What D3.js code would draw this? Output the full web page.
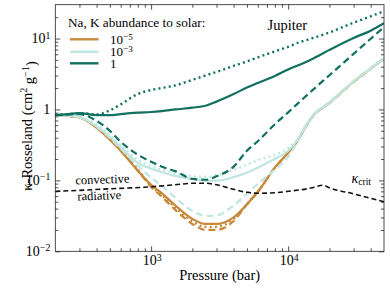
<!DOCTYPE html>
<html>
<head>
<meta charset="utf-8">
<script src="https://cdn.jsdelivr.net/npm/d3@7"></script>
<style>
  body { margin: 0; background: #fff; }
</style>
</head>
<body>
<div id="chart"></div>
<script>
// chart size and plot box
const width = 390;
const height = 288;
const margin = {left: 55.3, right: 6, top: 4.7, bottom: 36.7};

// pressure grid (bar) shared by the coloured curves
const pressure = [200, 250, 300, 400, 500, 600, 800, 1000, 1200, 1500, 2000, 2500, 3000,
                  4000, 5000, 6000, 8000, 10000, 12000, 13000, 15000, 20000, 30000, 40000, 50000];

// abundance = 1 (dark teal)
const kTealSolid = [0.83, 0.86, 0.89, 0.83, 0.83, 0.86, 0.90, 0.92, 0.95, 1.0, 1.06, 1.13, 1.29,
                    1.65, 2.04, 2.36, 2.97, 3.67, 4.25, 4.53, 5.16, 6.92, 10.2, 12.9, 16.4];
const kTealDash  = [0.83, 0.85, 0.86, 0.69, 0.50, 0.35, 0.23, 0.183, 0.156, 0.135, 0.105, 0.102, 0.114,
                    0.156, 0.262, 0.357, 0.62, 0.91, 1.26, 1.45, 1.86, 3.04, 6.08, 9.93, 14.5];
const kTealDot   = [0.83, 0.86, 0.89, 0.85, 0.97, 1.18, 1.65, 1.88, 2.01, 2.18, 2.61, 3.02, 3.38,
                    4.11, 4.76, 5.42, 6.59, 7.64, 8.84, 9.27, 10.1, 12.2, 16.7, 20.6, 24.3];

// abundance = 1e-3 (light cyan)
const kCyanSolid = [0.83, 0.82, 0.78, 0.58, 0.41, 0.294, 0.177, 0.146, 0.130, 0.116, 0.105, 0.099, 0.099,
                    0.111, 0.128, 0.151, 0.202, 0.262, 0.40, 0.53, 0.794, 1.25, 2.48, 3.79, 5.25];
const kCyanDash  = [0.83, 0.82, 0.78, 0.57, 0.394, 0.28, 0.161, 0.109, 0.084, 0.057, 0.037, 0.0316, 0.0321,
                    0.0444, 0.0646, 0.0895, 0.141, 0.216, 0.38, 0.52, 0.79, 1.24, 2.46, 3.77, 5.22];
const kCyanDot   = [0.83, 0.82, 0.78, 0.61, 0.43, 0.313, 0.196, 0.158, 0.141, 0.126, 0.114, 0.112, 0.118,
                    0.141, 0.166, 0.192, 0.230, 0.289, 0.41, 0.54, 0.80, 1.26, 2.5, 3.8, 5.27];

// abundance = 1e-5 (orange)
const kOrangeSolid = [0.83, 0.81, 0.77, 0.555, 0.375, 0.262, 0.137, 0.0867, 0.0657, 0.0444, 0.0286, 0.0243, 0.0243,
                      0.0301, 0.0459, 0.069, 0.151, 0.246, 0.39, 0.52, 0.79, 1.24, 2.46, 3.77, 5.22];
const kOrangeDash  = [0.83, 0.81, 0.77, 0.555, 0.375, 0.262, 0.137, 0.081, 0.0586, 0.0384, 0.0243, 0.020, 0.020,
                      0.0268, 0.0459, 0.069, 0.151, 0.246, 0.39, 0.52, 0.79, 1.24, 2.46, 3.77, 5.22];
const kOrangeDot   = [0.83, 0.81, 0.78, 0.565, 0.385, 0.27, 0.142, 0.0838, 0.062, 0.0413, 0.0265, 0.0221, 0.0221,
                      0.0286, 0.0459, 0.069, 0.151, 0.246, 0.39, 0.52, 0.79, 1.24, 2.46, 3.77, 5.22];

// critical opacity (black dashed)
const pCrit = [200, 300, 500, 1000, 1500, 2000, 2500, 3000, 4000, 5000, 6000, 8000, 10000, 15000, 18000, 20000, 30000, 50000];
const kCrit = [0.0701, 0.0724, 0.076, 0.0812, 0.0867, 0.091, 0.091, 0.0867, 0.0748, 0.0679, 0.0657, 0.0668,
               0.0701, 0.0786, 0.0853, 0.0786, 0.0646, 0.0498];

// legend
const legendTitle = "Na, K abundance to solar:";
const legendExp = ["\u22125", "\u22123", null];

// tick labels
const xMajor = [1000, 10000];
const xMajorExp = ["3", "4"];
const yMajor = [0.01, 0.1, 1, 10];
const yMajorExp = ["\u22122", "\u22121", null, "1"];

const colors = {orange: "#c8893b", cyan: "#bfe6df", teal: "#11705f"};
const dashes = {solid: null, dash: "7,4", dot: "2,3.2"};

const svg = d3.select("#chart")
  .append("svg")
  .attr("width", width)
  .attr("height", height)
  .attr("font-family", "'Liberation Serif', 'DejaVu Serif', 'Times New Roman', serif");

const x = d3.scaleLog()
  .domain([200, 50000])
  .range([margin.left, width - margin.right]);

const y = d3.scaleLog()
  .domain([0.01, 30])
  .range([height - margin.bottom, margin.top]);

const x0 = margin.left, x1 = width - margin.right;
const y0 = height - margin.bottom, y1 = margin.top;

// minor tick values
function minors(lo, hi) {
  const out = [];
  for (let e = Math.floor(Math.log10(lo)); e <= Math.ceil(Math.log10(hi)); e++) {
    for (let m = 2; m <= 9; m++) {
      const v = m * Math.pow(10, e);
      if (v > lo && v < hi) out.push(v);
    }
  }
  return out;
}
const xMinor = minors(200, 50000);
const yMinor = minors(0.01, 30);

// axes: ticks point inward on every side
function addAxis(axisFn, scale, values, size, transform) {
  const g = svg.append("g")
    .attr("transform", transform)
    .call(axisFn(scale).tickValues(values).tickSize(-size).tickSizeOuter(0).tickFormat(""));
  g.select(".domain").remove();
  g.selectAll("line").attr("stroke", "#222").attr("stroke-width", 0.8);
  return g;
}
addAxis(d3.axisBottom, x, xMajor, 5, `translate(0,${y0})`);
addAxis(d3.axisBottom, x, xMinor, 3, `translate(0,${y0})`);
addAxis(d3.axisTop, x, xMajor, 5, `translate(0,${y1})`);
addAxis(d3.axisTop, x, xMinor, 3, `translate(0,${y1})`);
addAxis(d3.axisLeft, y, yMajor, 5, `translate(${x0},0)`);
addAxis(d3.axisLeft, y, yMinor, 3, `translate(${x0},0)`);
addAxis(d3.axisRight, y, yMajor, 5, `translate(${x1},0)`);
addAxis(d3.axisRight, y, yMinor, 3, `translate(${x1},0)`);

// helper: "10" with a superscript
function powerLabel(sel, base, exp) {
  sel.append("tspan").text(base);
  if (exp) {
    sel.append("tspan").attr("dy", "-0.45em").attr("font-size", "70%").text(exp);
  }
}

// x tick labels
xMajor.forEach((v, i) => {
  const t = svg.append("text")
    .attr("x", x(v) + 1)
    .attr("y", y0 + 14)
    .attr("text-anchor", "middle")
    .attr("font-size", 14);
  powerLabel(t, "10", xMajorExp[i]);
});

// y tick labels
yMajor.forEach((v, i) => {
  const t = svg.append("text")
    .attr("x", x0 - 5)
    .attr("y", y(v) + 4.5)
    .attr("text-anchor", "end")
    .attr("font-size", 14);
  powerLabel(t, yMajorExp[i] ? "10" : "1", yMajorExp[i]);
});

// axis titles
svg.append("text")
  .attr("x", (x0 + x1) / 2)
  .attr("y", 280)
  .attr("text-anchor", "middle")
  .attr("font-size", 14.5)
  .text("Pressure (bar)");

const ylab = svg.append("text")
  .attr("transform", `translate(32,126) rotate(-90)`)
  .attr("text-anchor", "middle")
  .attr("font-size", 14.5);
ylab.append("tspan").text("\u03ba-Rosseland (cm");
ylab.append("tspan").attr("dy", "-0.45em").attr("font-size", "70%").text("2");
ylab.append("tspan").attr("dy", "0.45em").text(" g");
ylab.append("tspan").attr("dy", "-0.45em").attr("font-size", "70%").text("\u22121");
ylab.append("tspan").attr("dy", "0.45em").text(")");

// clip the curves to the plot box
svg.append("clipPath").attr("id", "plot-clip")
  .append("rect")
  .attr("x", x0).attr("y", y1)
  .attr("width", x1 - x0).attr("height", y0 - y1);

const plot = svg.append("g").attr("clip-path", "url(#plot-clip)");

const line = d3.line()
  .x(d => x(d[0]))
  .y(d => y(d[1]))
  .curve(d3.curveMonotoneX);

const series = [
  {k: kOrangeSolid, color: colors.orange, style: "solid"},
  {k: kOrangeDash, color: colors.orange, style: "dash"},
  {k: kOrangeDot, color: colors.orange, style: "dot"},
  {k: kCyanSolid, color: colors.cyan, style: "solid"},
  {k: kCyanDash, color: colors.cyan, style: "dash"},
  {k: kCyanDot, color: colors.cyan, style: "dot"},
  {k: kTealSolid, color: colors.teal, style: "solid"},
  {k: kTealDash, color: colors.teal, style: "dash"},
  {k: kTealDot, color: colors.teal, style: "dot"}
];

plot.selectAll(".curve")
  .data(series)
  .enter()
  .append("path")
    .attr("class", "curve")
    .attr("d", s => line(pressure.map((p, i) => [p, s.k[i]])))
    .attr("fill", "none")
    .attr("stroke", s => s.color)
    .attr("stroke-width", s => s.style === "dot" ? 2.4 : 2.2)
    .attr("stroke-dasharray", s => dashes[s.style]);

// kappa_crit
plot.append("path")
  .attr("d", line(pCrit.map((p, i) => [p, kCrit[i]])))
  .attr("fill", "none")
  .attr("stroke", "#111")
  .attr("stroke-width", 1.6)
  .attr("stroke-dasharray", "5,3");

// frame
svg.append("rect")
  .attr("x", x0).attr("y", y1)
  .attr("width", x1 - x0).attr("height", y0 - y1)
  .attr("fill", "none")
  .attr("stroke", "#222")
  .attr("stroke-width", 0.8);

// annotations
svg.append("text").attr("x", 267.5).attr("y", 30).attr("font-size", 14.5).text("Jupiter");
svg.append("text").attr("x", 75.5).attr("y", 184.5).attr("font-size", 12.5)
  .attr("transform", "rotate(-2,75.5,184.5)").text("convective");
svg.append("text").attr("x", 77.5).attr("y", 200.5).attr("font-size", 12.5)
  .attr("transform", "rotate(-2,77.5,200.5)").text("radiative");

const kc = svg.append("text").attr("x", 351.5).attr("y", 182.5).attr("font-size", 14);
kc.append("tspan").attr("font-style", "italic").text("\u03ba");
kc.append("tspan").attr("dy", "0.3em").attr("font-size", "68%").text("crit");

// legend
svg.append("text").attr("x", 68).attr("y", 26.5).attr("font-size", 13.2).text(legendTitle);
const legendColors = [colors.orange, colors.cyan, colors.teal];
const legendY = [39.3, 51.7, 63.3];
legendColors.forEach((c, i) => {
  svg.append("line")
    .attr("x1", 70).attr("x2", 98.5)
    .attr("y1", legendY[i]).attr("y2", legendY[i])
    .attr("stroke", c).attr("stroke-width", 2.4);
  const t = svg.append("text")
    .attr("x", 110).attr("y", legendY[i] + 4.5)
    .attr("font-size", 13);
  powerLabel(t, legendExp[i] ? "10" : "1", legendExp[i]);
});
</script>
</body>
</html>
